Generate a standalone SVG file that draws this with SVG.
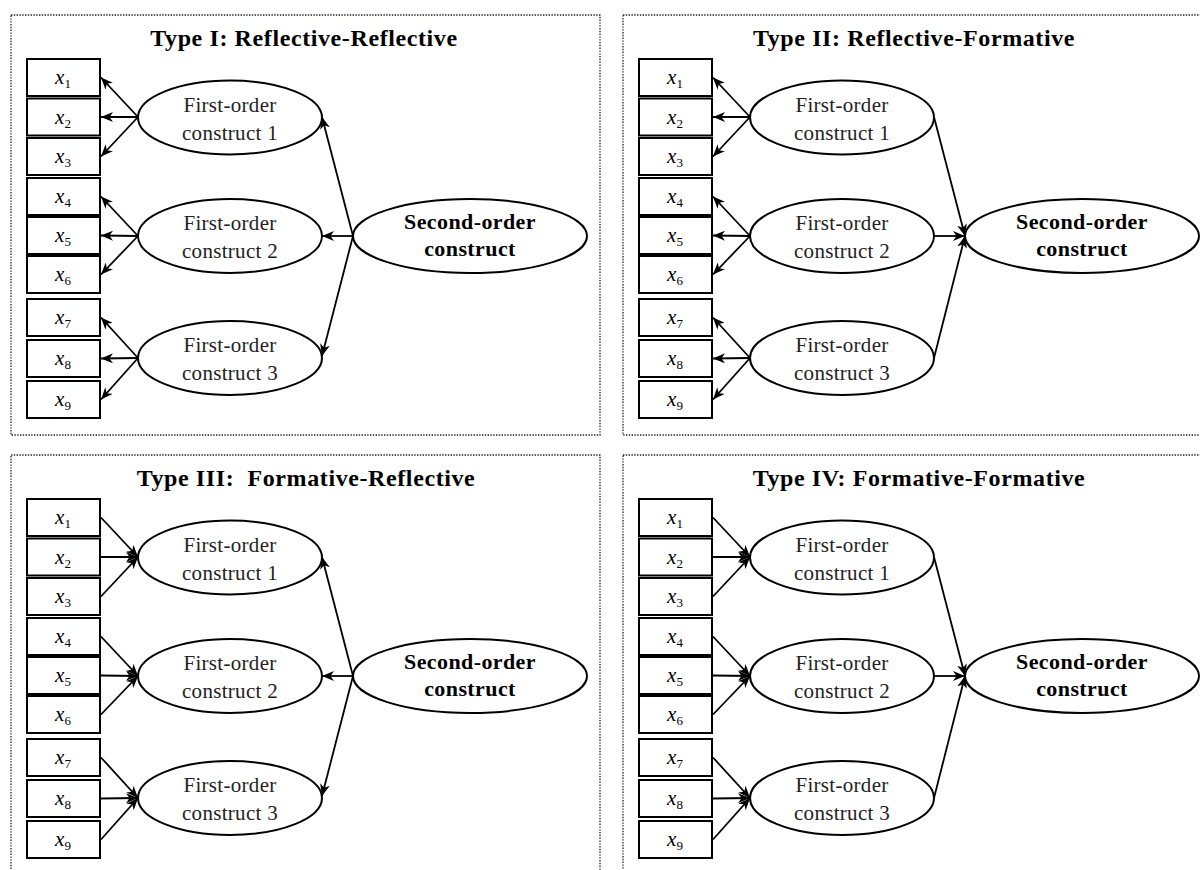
<svg xmlns="http://www.w3.org/2000/svg" width="1200" height="870" viewBox="0 0 1200 870">
  <style>
    .frame { fill: none; stroke: #222; stroke-width: 1.3; stroke-dasharray: 1.4 1.4; }
    .box { fill: #fff; stroke: #000; stroke-width: 2; }
    .oval { fill: #fff; stroke: #000; stroke-width: 2; }
    .title { font-family: "Liberation Serif", "Times New Roman", serif; font-size: 24px; letter-spacing: 0.6px; font-weight: bold; text-anchor: middle; fill: #000; }
    .lbl { font-family: "Liberation Serif", "Times New Roman", serif; font-size: 21px; letter-spacing: 0.3px; text-anchor: middle; fill: #222; }
    .lblb { font-family: "Liberation Serif", "Times New Roman", serif; font-size: 22px; letter-spacing: 0.4px; font-weight: bold; text-anchor: middle; fill: #000; }
    .var { font-family: "Liberation Serif", "Times New Roman", serif; font-size: 21px; text-anchor: middle; fill: #000; }
    .var .it { font-style: italic; }
    .var .sub { font-size: 13px; }
    .link { fill: none; stroke: #000; stroke-width: 1.8; marker-end: url(#head); }
  </style>
  <defs>
    <marker id="head" markerUnits="userSpaceOnUse" markerWidth="12" markerHeight="10" refX="12" refY="5" orient="auto">
      <path d="M0,0 L12,5 L0,10 L3.5,5 z" fill="#000"/>
    </marker>
  </defs>
  <rect width="1200" height="870" fill="#fff"/>

  <!-- Panel frames and titles -->
  <g id="frames">
    <rect class="frame" x="11" y="15" width="589" height="420"/>
    <rect class="frame" x="623" y="15" width="600" height="420"/>
    <rect class="frame" x="11" y="455" width="589" height="430"/>
    <rect class="frame" x="623" y="455" width="600" height="430"/>
    <text class="title" x="304" y="46">Type I: Reflective-Reflective</text>
    <text class="title" x="914" y="46">Type II: Reflective-Formative</text>
    <text class="title" x="306" y="486" xml:space="preserve">Type III:  Formative-Reflective</text>
    <text class="title" x="919" y="486">Type IV: Formative-Formative</text>
  </g>

  <!-- Connectors -->
  <g id="connectors">
    <!-- Type I -->
    <path class="link" d="M138,117 L101,77.5"/>
    <path class="link" d="M138,117 L101,117"/>
    <path class="link" d="M138,117 L101,156.5"/>
    <path class="link" d="M138,236 L101,196.5"/>
    <path class="link" d="M138,236 L101,235.5"/>
    <path class="link" d="M138,236 L101,274.5"/>
    <path class="link" d="M138,358 L101,317.5"/>
    <path class="link" d="M138,358 L101,358.5"/>
    <path class="link" d="M138,358 L101,399.5"/>
    <path class="link" d="M353,236 L322,117"/>
    <path class="link" d="M353,236 L322,236"/>
    <path class="link" d="M353,236 L322,356"/>
    <!-- Type II -->
    <path class="link" d="M750,117 L713,77.5"/>
    <path class="link" d="M750,117 L713,117"/>
    <path class="link" d="M750,117 L713,156.5"/>
    <path class="link" d="M750,236 L713,196.5"/>
    <path class="link" d="M750,236 L713,235.5"/>
    <path class="link" d="M750,236 L713,274.5"/>
    <path class="link" d="M750,358 L713,317.5"/>
    <path class="link" d="M750,358 L713,358.5"/>
    <path class="link" d="M750,358 L713,399.5"/>
    <path class="link" d="M934,117 L965,236"/>
    <path class="link" d="M934,236 L965,236"/>
    <path class="link" d="M934,358 L965,236"/>
    <!-- Type III -->
    <path class="link" d="M101,517.5 L138,557"/>
    <path class="link" d="M101,557 L138,557"/>
    <path class="link" d="M101,596.5 L138,557"/>
    <path class="link" d="M101,636.5 L138,676"/>
    <path class="link" d="M101,675.5 L138,676"/>
    <path class="link" d="M101,714.5 L138,676"/>
    <path class="link" d="M101,757.5 L138,798"/>
    <path class="link" d="M101,798.5 L138,798"/>
    <path class="link" d="M101,839.5 L138,798"/>
    <path class="link" d="M353,676 L322,557"/>
    <path class="link" d="M353,676 L322,676"/>
    <path class="link" d="M353,676 L322,796"/>
    <!-- Type IV -->
    <path class="link" d="M713,517.5 L750,557"/>
    <path class="link" d="M713,557 L750,557"/>
    <path class="link" d="M713,596.5 L750,557"/>
    <path class="link" d="M713,636.5 L750,676"/>
    <path class="link" d="M713,675.5 L750,676"/>
    <path class="link" d="M713,714.5 L750,676"/>
    <path class="link" d="M713,757.5 L750,798"/>
    <path class="link" d="M713,798.5 L750,798"/>
    <path class="link" d="M713,839.5 L750,798"/>
    <path class="link" d="M934,557 L965,676"/>
    <path class="link" d="M934,676 L965,676"/>
    <path class="link" d="M934,798 L965,676"/>
  </g>

  <!-- Type I nodes -->
  <g id="t1-x1"><rect class="box" x="27" y="59" width="73" height="37"/><text class="var" x="63" y="84"><tspan class="it">x</tspan><tspan class="sub" dy="4">1</tspan></text></g>
  <g id="t1-x2"><rect class="box" x="27" y="98.5" width="73" height="37"/><text class="var" x="63" y="123.5"><tspan class="it">x</tspan><tspan class="sub" dy="4">2</tspan></text></g>
  <g id="t1-x3"><rect class="box" x="27" y="138" width="73" height="37"/><text class="var" x="63" y="163"><tspan class="it">x</tspan><tspan class="sub" dy="4">3</tspan></text></g>
  <g id="t1-x4"><rect class="box" x="27" y="178" width="73" height="37"/><text class="var" x="63" y="203"><tspan class="it">x</tspan><tspan class="sub" dy="4">4</tspan></text></g>
  <g id="t1-x5"><rect class="box" x="27" y="217" width="73" height="37"/><text class="var" x="63" y="242"><tspan class="it">x</tspan><tspan class="sub" dy="4">5</tspan></text></g>
  <g id="t1-x6"><rect class="box" x="27" y="256" width="73" height="37"/><text class="var" x="63" y="281"><tspan class="it">x</tspan><tspan class="sub" dy="4">6</tspan></text></g>
  <g id="t1-x7"><rect class="box" x="27" y="299" width="73" height="37"/><text class="var" x="63" y="324"><tspan class="it">x</tspan><tspan class="sub" dy="4">7</tspan></text></g>
  <g id="t1-x8"><rect class="box" x="27" y="340" width="73" height="37"/><text class="var" x="63" y="365"><tspan class="it">x</tspan><tspan class="sub" dy="4">8</tspan></text></g>
  <g id="t1-x9"><rect class="box" x="27" y="381" width="73" height="37"/><text class="var" x="63" y="406"><tspan class="it">x</tspan><tspan class="sub" dy="4">9</tspan></text></g>
  <g id="t1-f1"><ellipse class="oval" cx="230" cy="117.5" rx="92" ry="37"/><text class="lbl" x="230" y="111.5">First-order</text><text class="lbl" x="230" y="139.5">construct 1</text></g>
  <g id="t1-f2"><ellipse class="oval" cx="230" cy="236" rx="92" ry="37"/><text class="lbl" x="230" y="230">First-order</text><text class="lbl" x="230" y="258">construct 2</text></g>
  <g id="t1-f3"><ellipse class="oval" cx="230" cy="358" rx="92" ry="37"/><text class="lbl" x="230" y="352">First-order</text><text class="lbl" x="230" y="380">construct 3</text></g>
  <g id="t1-s"><ellipse class="oval" cx="470" cy="236" rx="117" ry="37"/><text class="lblb" x="470" y="229">Second-order</text><text class="lblb" x="470" y="256">construct</text></g>

  <!-- Type II nodes -->
  <g id="t2-x1"><rect class="box" x="639" y="59" width="73" height="37"/><text class="var" x="675" y="84"><tspan class="it">x</tspan><tspan class="sub" dy="4">1</tspan></text></g>
  <g id="t2-x2"><rect class="box" x="639" y="98.5" width="73" height="37"/><text class="var" x="675" y="123.5"><tspan class="it">x</tspan><tspan class="sub" dy="4">2</tspan></text></g>
  <g id="t2-x3"><rect class="box" x="639" y="138" width="73" height="37"/><text class="var" x="675" y="163"><tspan class="it">x</tspan><tspan class="sub" dy="4">3</tspan></text></g>
  <g id="t2-x4"><rect class="box" x="639" y="178" width="73" height="37"/><text class="var" x="675" y="203"><tspan class="it">x</tspan><tspan class="sub" dy="4">4</tspan></text></g>
  <g id="t2-x5"><rect class="box" x="639" y="217" width="73" height="37"/><text class="var" x="675" y="242"><tspan class="it">x</tspan><tspan class="sub" dy="4">5</tspan></text></g>
  <g id="t2-x6"><rect class="box" x="639" y="256" width="73" height="37"/><text class="var" x="675" y="281"><tspan class="it">x</tspan><tspan class="sub" dy="4">6</tspan></text></g>
  <g id="t2-x7"><rect class="box" x="639" y="299" width="73" height="37"/><text class="var" x="675" y="324"><tspan class="it">x</tspan><tspan class="sub" dy="4">7</tspan></text></g>
  <g id="t2-x8"><rect class="box" x="639" y="340" width="73" height="37"/><text class="var" x="675" y="365"><tspan class="it">x</tspan><tspan class="sub" dy="4">8</tspan></text></g>
  <g id="t2-x9"><rect class="box" x="639" y="381" width="73" height="37"/><text class="var" x="675" y="406"><tspan class="it">x</tspan><tspan class="sub" dy="4">9</tspan></text></g>
  <g id="t2-f1"><ellipse class="oval" cx="842" cy="117.5" rx="92" ry="37"/><text class="lbl" x="842" y="111.5">First-order</text><text class="lbl" x="842" y="139.5">construct 1</text></g>
  <g id="t2-f2"><ellipse class="oval" cx="842" cy="236" rx="92" ry="37"/><text class="lbl" x="842" y="230">First-order</text><text class="lbl" x="842" y="258">construct 2</text></g>
  <g id="t2-f3"><ellipse class="oval" cx="842" cy="358" rx="92" ry="37"/><text class="lbl" x="842" y="352">First-order</text><text class="lbl" x="842" y="380">construct 3</text></g>
  <g id="t2-s"><ellipse class="oval" cx="1082" cy="236" rx="117" ry="37"/><text class="lblb" x="1082" y="229">Second-order</text><text class="lblb" x="1082" y="256">construct</text></g>

  <!-- Type III nodes -->
  <g id="t3-x1"><rect class="box" x="27" y="499" width="73" height="37"/><text class="var" x="63" y="524"><tspan class="it">x</tspan><tspan class="sub" dy="4">1</tspan></text></g>
  <g id="t3-x2"><rect class="box" x="27" y="538.5" width="73" height="37"/><text class="var" x="63" y="563.5"><tspan class="it">x</tspan><tspan class="sub" dy="4">2</tspan></text></g>
  <g id="t3-x3"><rect class="box" x="27" y="578" width="73" height="37"/><text class="var" x="63" y="603"><tspan class="it">x</tspan><tspan class="sub" dy="4">3</tspan></text></g>
  <g id="t3-x4"><rect class="box" x="27" y="618" width="73" height="37"/><text class="var" x="63" y="643"><tspan class="it">x</tspan><tspan class="sub" dy="4">4</tspan></text></g>
  <g id="t3-x5"><rect class="box" x="27" y="657" width="73" height="37"/><text class="var" x="63" y="682"><tspan class="it">x</tspan><tspan class="sub" dy="4">5</tspan></text></g>
  <g id="t3-x6"><rect class="box" x="27" y="696" width="73" height="37"/><text class="var" x="63" y="721"><tspan class="it">x</tspan><tspan class="sub" dy="4">6</tspan></text></g>
  <g id="t3-x7"><rect class="box" x="27" y="739" width="73" height="37"/><text class="var" x="63" y="764"><tspan class="it">x</tspan><tspan class="sub" dy="4">7</tspan></text></g>
  <g id="t3-x8"><rect class="box" x="27" y="780" width="73" height="37"/><text class="var" x="63" y="805"><tspan class="it">x</tspan><tspan class="sub" dy="4">8</tspan></text></g>
  <g id="t3-x9"><rect class="box" x="27" y="821" width="73" height="37"/><text class="var" x="63" y="846"><tspan class="it">x</tspan><tspan class="sub" dy="4">9</tspan></text></g>
  <g id="t3-f1"><ellipse class="oval" cx="230" cy="557.5" rx="92" ry="37"/><text class="lbl" x="230" y="551.5">First-order</text><text class="lbl" x="230" y="579.5">construct 1</text></g>
  <g id="t3-f2"><ellipse class="oval" cx="230" cy="676" rx="92" ry="37"/><text class="lbl" x="230" y="670">First-order</text><text class="lbl" x="230" y="698">construct 2</text></g>
  <g id="t3-f3"><ellipse class="oval" cx="230" cy="798" rx="92" ry="37"/><text class="lbl" x="230" y="792">First-order</text><text class="lbl" x="230" y="820">construct 3</text></g>
  <g id="t3-s"><ellipse class="oval" cx="470" cy="676" rx="117" ry="37"/><text class="lblb" x="470" y="669">Second-order</text><text class="lblb" x="470" y="696">construct</text></g>

  <!-- Type IV nodes -->
  <g id="t4-x1"><rect class="box" x="639" y="499" width="73" height="37"/><text class="var" x="675" y="524"><tspan class="it">x</tspan><tspan class="sub" dy="4">1</tspan></text></g>
  <g id="t4-x2"><rect class="box" x="639" y="538.5" width="73" height="37"/><text class="var" x="675" y="563.5"><tspan class="it">x</tspan><tspan class="sub" dy="4">2</tspan></text></g>
  <g id="t4-x3"><rect class="box" x="639" y="578" width="73" height="37"/><text class="var" x="675" y="603"><tspan class="it">x</tspan><tspan class="sub" dy="4">3</tspan></text></g>
  <g id="t4-x4"><rect class="box" x="639" y="618" width="73" height="37"/><text class="var" x="675" y="643"><tspan class="it">x</tspan><tspan class="sub" dy="4">4</tspan></text></g>
  <g id="t4-x5"><rect class="box" x="639" y="657" width="73" height="37"/><text class="var" x="675" y="682"><tspan class="it">x</tspan><tspan class="sub" dy="4">5</tspan></text></g>
  <g id="t4-x6"><rect class="box" x="639" y="696" width="73" height="37"/><text class="var" x="675" y="721"><tspan class="it">x</tspan><tspan class="sub" dy="4">6</tspan></text></g>
  <g id="t4-x7"><rect class="box" x="639" y="739" width="73" height="37"/><text class="var" x="675" y="764"><tspan class="it">x</tspan><tspan class="sub" dy="4">7</tspan></text></g>
  <g id="t4-x8"><rect class="box" x="639" y="780" width="73" height="37"/><text class="var" x="675" y="805"><tspan class="it">x</tspan><tspan class="sub" dy="4">8</tspan></text></g>
  <g id="t4-x9"><rect class="box" x="639" y="821" width="73" height="37"/><text class="var" x="675" y="846"><tspan class="it">x</tspan><tspan class="sub" dy="4">9</tspan></text></g>
  <g id="t4-f1"><ellipse class="oval" cx="842" cy="557.5" rx="92" ry="37"/><text class="lbl" x="842" y="551.5">First-order</text><text class="lbl" x="842" y="579.5">construct 1</text></g>
  <g id="t4-f2"><ellipse class="oval" cx="842" cy="676" rx="92" ry="37"/><text class="lbl" x="842" y="670">First-order</text><text class="lbl" x="842" y="698">construct 2</text></g>
  <g id="t4-f3"><ellipse class="oval" cx="842" cy="798" rx="92" ry="37"/><text class="lbl" x="842" y="792">First-order</text><text class="lbl" x="842" y="820">construct 3</text></g>
  <g id="t4-s"><ellipse class="oval" cx="1082" cy="676" rx="117" ry="37"/><text class="lblb" x="1082" y="669">Second-order</text><text class="lblb" x="1082" y="696">construct</text></g>
</svg>
